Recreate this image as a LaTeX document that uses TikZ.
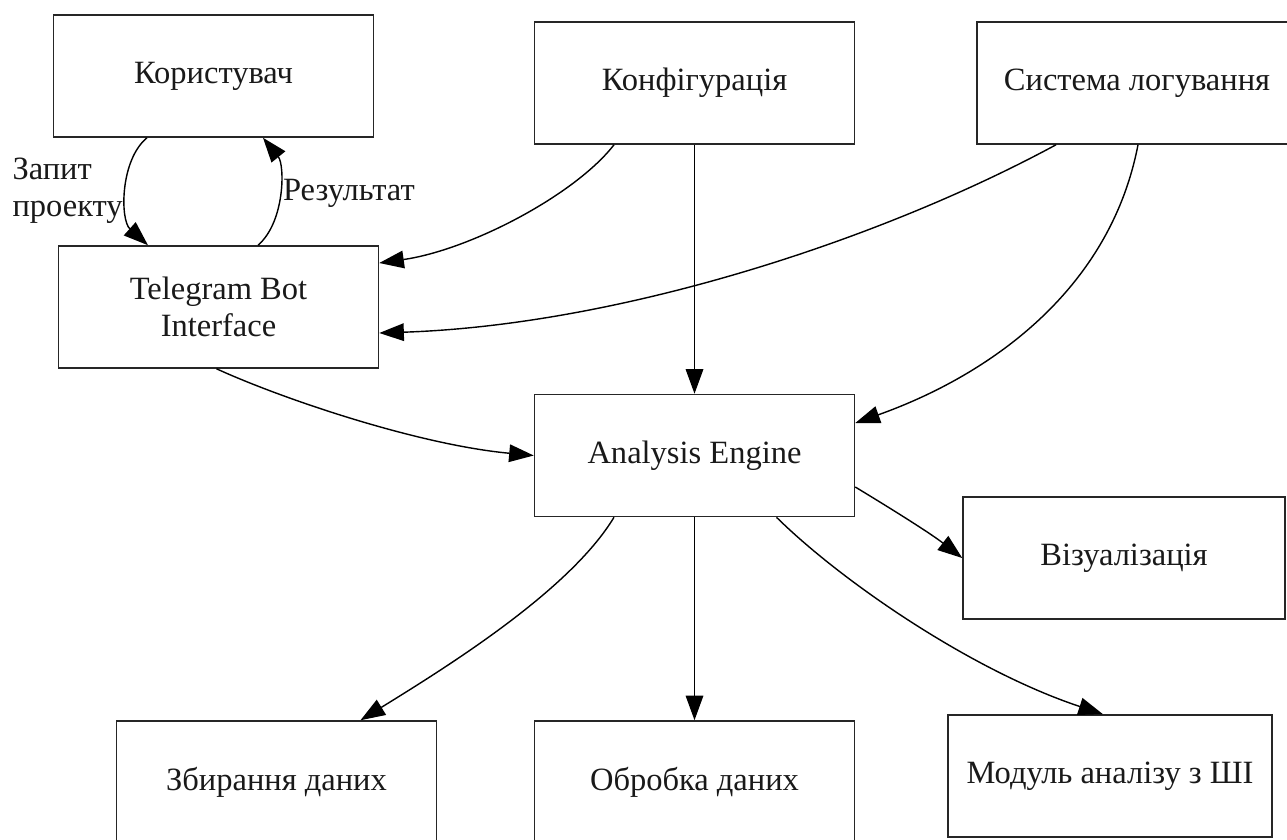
\documentclass[tikz,border=0pt]{standalone}
\usepackage{fontspec}
\setmainfont{Liberation Serif}
\usetikzlibrary{arrows.meta,calc}
\begin{document}
\begin{tikzpicture}[
 x=.02cm,y=-.02cm,
 box/.style={draw=black!85,line width=.9pt,minimum width=6.4cm,minimum height=2.44cm,inner sep=0pt},
 edge/.style={draw=black,line width=.8pt,-{Triangle[length=14pt,width=10pt]}},
 lbl/.style={inner sep=2pt},
 every node/.style={font=\fontsize{18.5}{21}\selectfont,text=black!90}]
 \useasboundingbox (0,0) rectangle (1287,839);
 % Top row.
 \node[box] (kor) at (213.5,76){Користувач};
 \node[box] (kon) at (694.5,83){Конфігурація};
 \node[box] (sys) at (1137,83){Система логування};
 % Middle.
 \node[box,align=center] (tg) at (218.5,307){Telegram Bot\\Interface};
 \node[box] (ae) at (694.5,455.5){Analysis Engine};
 \node[box,minimum width=6.44cm] (viz) at (1124,558){Візуалізація};
 % Bottom row.
 \node[box] (zb) at (276.5,782){Збирання даних};
 \node[box] (obr) at (694.5,782){Обробка даних};
 \node[box,minimum width=6.48cm] (mod) at (1110,776){Модуль аналізу з ШІ};
 % User loop.
 \draw[edge] ($(kor.south)+(-66.5,0)$) .. controls (120,160) and (120,220) .. ($(tg.north)+(-70.5,0)$)
  node[lbl,pos=.5,left,align=left]{Запит\\проекту};
 \draw[edge] ($(tg.north)+(39.5,0)$) .. controls (285,222) and (285,165) .. ($(kor.south)+(49.5,0)$)
  node[lbl,pos=.5,right]{Результат};
 % Config and logging.
 \draw[edge] ($(kon.south)+(-80.5,0)$) .. controls (575,195) and (470,250) .. ($(tg.east)+(0,-44)$);
 \draw[edge] (kon.south) -- (ae.north);
 \draw[edge] ($(sys.south)+(-81,0)$) .. controls (880,240) and (620,325) .. ($(tg.east)+(0,26)$);
 \draw[edge] ($(sys.south)+(1,0)$) .. controls (1110,290) and (990,375) .. ($(ae.east)+(0,-32.5)$);
 % Bot to engine.
 \draw[edge] ($(tg.south)+(-2,0)$) .. controls (285,400) and (420,445) .. (ae.west);
 % Engine outputs.
 \draw[edge] ($(ae.east)+(0,31.5)$) .. controls (890,508) and (930,533) .. (viz.west);
 \draw[edge] ($(ae.south)+(-80.5,0)$) .. controls (570,590) and (450,665) .. ($(zb.north)+(84,0)$);
 \draw[edge] (ae.south) -- (obr.north);
 \draw[edge] ($(ae.south)+(82,0)$) .. controls (840,580) and (970,670) .. ($(mod.north)+(-7,0)$);
\end{tikzpicture}
\end{document}
